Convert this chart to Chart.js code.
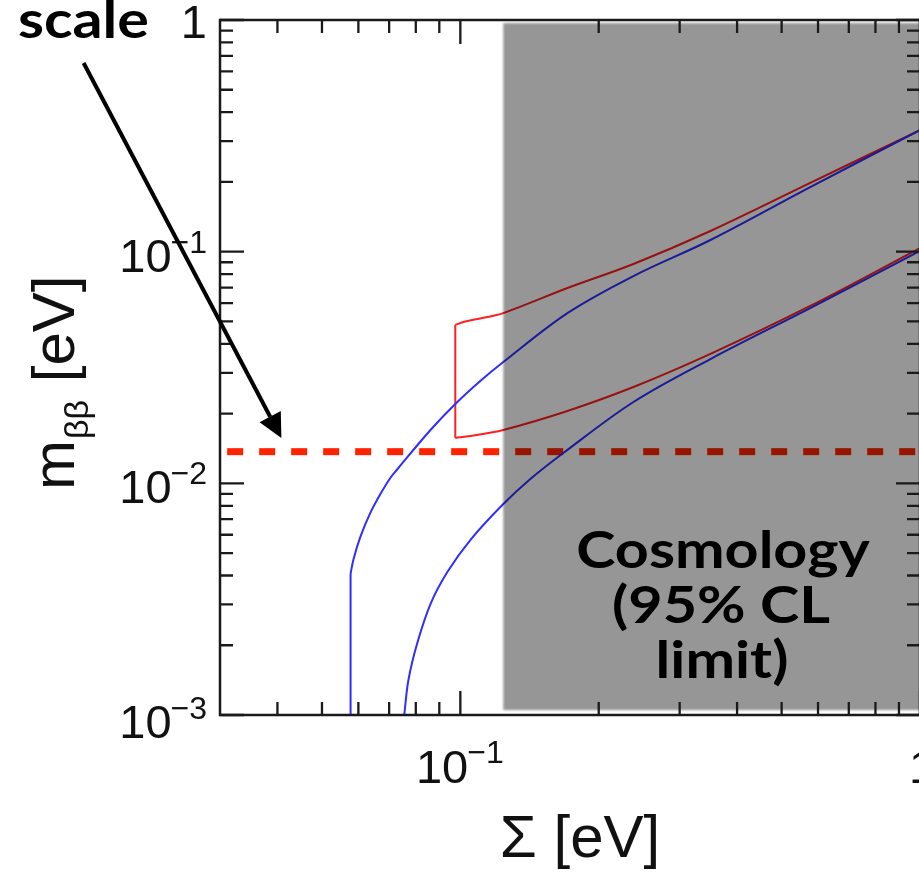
<!DOCTYPE html>
<html>
<head>
<meta charset="utf-8">
<script src="https://cdn.jsdelivr.net/npm/chart.js@4.4.0/dist/chart.umd.min.js"></script>
<style>
  html, body { margin: 0; padding: 0; background: #fff; overflow: hidden; }
  #wrap { position: relative; width: 930px; height: 873px; }
</style>
</head>
<body>
<div id="wrap"><canvas id="graficoMbb"></canvas></div>
<script>
// === Dados ===
// Eixo x: Σ [eV] (log), eixo y: m_ββ [eV] (log)
const xMajorTicks = [0.1, 1];
const xMinorTicks = [0.04, 0.05, 0.06, 0.07, 0.08, 0.09, 0.2, 0.3, 0.4, 0.5, 0.6, 0.7, 0.8, 0.9];
const yMajorTicks = [0.001, 0.01, 0.1, 1];
const yMinorTicks = [0.002, 0.003, 0.004, 0.005, 0.006, 0.007, 0.008, 0.009,
                     0.02, 0.03, 0.04, 0.05, 0.06, 0.07, 0.08, 0.09,
                     0.2, 0.3, 0.4, 0.5, 0.6, 0.7, 0.8, 0.9];

// Hierarquia normal (azul) - limite superior (os 2 primeiros pontos = trecho vertical)
const nhUpperSigma = [0.0577, 0.0577, 0.0585, 0.0606, 0.0637, 0.0670, 0.0704, 0.0730, 0.0861, 0.0975, 0.1105, 0.124, 0.171, 0.238, 0.350, 0.577, 1.0];
const nhUpperMbb   = [0.001, 0.00406, 0.00467, 0.00587, 0.00745, 0.00899, 0.01055, 0.01153, 0.01699, 0.0220, 0.02765, 0.0334, 0.0543, 0.0785, 0.1123, 0.190, 0.335];

// Hierarquia normal (azul) - limite inferior
const nhLowerSigma = [0.0755, 0.0771, 0.0806, 0.0861, 0.0937, 0.1051, 0.1234, 0.142, 0.1675, 0.238, 0.350, 0.577, 1.0];
const nhLowerMbb   = [0.001, 0.001416, 0.002046, 0.003013, 0.00414, 0.00569, 0.00806, 0.01044, 0.01352, 0.02245, 0.0344, 0.0571, 0.1007];

// Hierarquia invertida (vermelho) - limites superior e inferior
const ihUpperSigma = [0.0975, 0.1015, 0.1105, 0.124, 0.171, 0.238, 0.350, 0.577, 1.0];
const ihUpperMbb   = [0.0483, 0.0497, 0.0515, 0.0543, 0.0697, 0.0885, 0.1228, 0.198, 0.335];
const ihLowerSigma = [0.0975, 0.1052, 0.124, 0.171, 0.238, 0.350, 0.577, 1.0];
const ihLowerMbb   = [0.0157, 0.0160, 0.0170, 0.02053, 0.02604, 0.0362, 0.0583, 0.1037];

// Sensibilidade (linha tracejada)
const sensitivitySigma = [0.0311, 1.0];
const sensitivityMbb = [0.0137, 0.0137];

// Limite cosmológico (região cinza)
const cosmoSigma = [0.124, 1.0];
const cosmoMbb = [0.00105, 0.97];

// Seta (início fora do gráfico, ponta perto da linha tracejada)
const arrowSigma = [0.01515, 0.0408];
const arrowMbb = [0.652, 0.0157];

// === Funções auxiliares ===
function pontos(xs, ys) {
  return xs.map((v, i) => ({ x: v, y: ys[i] }));
}

const FONTE_TICK = "47px 'Liberation Sans', Arial, sans-serif";
const FONTE_SUP = "32px 'Liberation Sans', Arial, sans-serif";
const FONTE_TITULO = "60px 'Liberation Sans', Arial, sans-serif";
const FONTE_SUB = "34px 'Liberation Sans', Arial, sans-serif";
const FONTE_NOTA = "bold 52px Lato, 'Open Sans', sans-serif";

function desenhaPotencia(ctx, expoente, x, yBase, ySup, alinhamento) {
  const base = "10";
  const sup = "\u2212" + expoente;
  ctx.font = FONTE_TICK;
  const wb = ctx.measureText(base).width;
  ctx.font = FONTE_SUP;
  const ws = ctx.measureText(sup).width;
  const x0 = alinhamento === "right" ? x - wb - ws : x - (wb + ws) / 2;
  ctx.textAlign = "left";
  ctx.font = FONTE_TICK;
  ctx.fillText(base, x0, yBase);
  ctx.font = FONTE_SUP;
  ctx.fillText(sup, x0 + wb - 1, ySup);
}

// texto em negrito, um pouco mais largo (imitando Gill Sans)
function textoLargo(ctx, texto, x, y, alinhamento) {
  ctx.save();
  ctx.translate(x, y);
  ctx.scale(1.14, 1);
  ctx.textAlign = alinhamento;
  ctx.fillText(texto, 0, 0);
  ctx.restore();
}

// Região cinza do limite cosmológico, por cima das curvas
const cosmoPlugin = {
  id: "cosmo",
  afterDatasetsDraw(chart) {
    const { ctx, scales: { x, y } } = chart;
    const x0 = x.getPixelForValue(cosmoSigma[0]);
    const x1 = x.getPixelForValue(cosmoSigma[1]) + 5;
    const y0 = y.getPixelForValue(cosmoMbb[1]);
    const y1 = y.getPixelForValue(cosmoMbb[0]);
    ctx.save();
    ctx.filter = "blur(1px)";
    ctx.fillStyle = "rgba(0, 0, 0, 0.41)";
    ctx.fillRect(x0, y0, x1 - x0, y1 - y0);
    ctx.restore();
  }
};

// Moldura, ticks para dentro, rótulos, títulos e anotações
const eixosPlugin = {
  id: "eixos",
  afterDraw(chart) {
    const { ctx, chartArea: a, scales: { x, y } } = chart;
    ctx.save();
    ctx.strokeStyle = "#1a1a1a";
    ctx.lineWidth = 2.5;
    ctx.strokeRect(a.left, a.top, a.right - a.left, a.bottom - a.top);

    ctx.lineWidth = 2.3;
    ctx.beginPath();
    const tick = (vals, len, eixo) => {
      vals.forEach(v => {
        if (eixo === "x") {
          const px = x.getPixelForValue(v);
          ctx.moveTo(px, a.bottom); ctx.lineTo(px, a.bottom - len);
          ctx.moveTo(px, a.top); ctx.lineTo(px, a.top + len);
        } else {
          const py = y.getPixelForValue(v);
          ctx.moveTo(a.left, py); ctx.lineTo(a.left + len, py);
          ctx.moveTo(a.right, py); ctx.lineTo(a.right - len, py);
        }
      });
    };
    tick(xMinorTicks, 13, "x");
    tick(xMajorTicks, 24, "x");
    tick(yMinorTicks, 13, "y");
    tick(yMajorTicks, 24, "y");
    ctx.stroke();

    // Rótulos do eixo y
    ctx.fillStyle = "#111";
    ctx.textBaseline = "alphabetic";
    yMajorTicks.forEach(v => {
      const py = y.getPixelForValue(v);
      if (v === 1) {
        ctx.font = FONTE_TICK;
        ctx.textAlign = "right";
        ctx.fillText("1", 207, py + 18);
      } else {
        const desloc = v === 0.001 ? 23 : 20;
        desenhaPotencia(ctx, Math.round(-Math.log10(v)), 208, py + desloc, py + desloc - 19, "right");
      }
    });

    // Rótulos do eixo x
    xMajorTicks.forEach(v => {
      const px = x.getPixelForValue(v);
      if (v === 1) {
        ctx.font = FONTE_TICK;
        ctx.textAlign = "center";
        ctx.fillText("1", px + 2, 783);
      } else {
        desenhaPotencia(ctx, Math.round(-Math.log10(v)), px, 783, 763, "center");
      }
    });

    // Título do eixo x
    ctx.font = FONTE_TITULO;
    ctx.textAlign = "center";
    ctx.fillText("\u03A3 [eV]", 580, 857);

    // Título do eixo y (rotacionado)
    ctx.save();
    ctx.translate(74, 490);
    ctx.rotate(-Math.PI / 2);
    ctx.textAlign = "left";
    ctx.font = FONTE_TITULO;
    ctx.fillText("m", 0, 0);
    let wx = ctx.measureText("m").width;
    ctx.font = FONTE_SUB;
    ctx.fillText("\u03B2\u03B2", wx + 1, 14);
    wx += ctx.measureText("\u03B2\u03B2").width + 2;
    ctx.font = FONTE_TITULO;
    ctx.fillText(" [eV]", wx, 0);
    ctx.restore();

    // Seta
    const sx = x.getPixelForValue(arrowSigma[0]), sy = y.getPixelForValue(arrowMbb[0]);
    const tx = x.getPixelForValue(arrowSigma[1]), ty = y.getPixelForValue(arrowMbb[1]);
    const ang = Math.atan2(ty - sy, tx - sx);
    const L = 24, W = 12;
    const bx = tx - L * Math.cos(ang), by = ty - L * Math.sin(ang);
    ctx.strokeStyle = "#000";
    ctx.lineWidth = 4;
    ctx.beginPath();
    ctx.moveTo(sx, sy);
    ctx.lineTo(bx, by);
    ctx.stroke();
    ctx.fillStyle = "#000";
    ctx.beginPath();
    ctx.moveTo(tx, ty);
    ctx.lineTo(bx + W * Math.sin(ang), by - W * Math.cos(ang));
    ctx.lineTo(bx - W * Math.sin(ang), by + W * Math.cos(ang));
    ctx.closePath();
    ctx.fill();

    // Textos em negrito
    ctx.font = FONTE_NOTA;
    textoLargo(ctx, "scale", 149, 38, "right");
    textoLargo(ctx, "Cosmology", 723, 568, "center");
    textoLargo(ctx, "(95% CL", 721, 623, "center");
    textoLargo(ctx, "limit)", 722, 678, "center");
    ctx.restore();
  }
};

// === Gráfico ===
window.addEventListener("load", () => {
  const ctxMbb = document.getElementById("graficoMbb").getContext("2d");
  const reta = { showLine: true, pointRadius: 0, borderWidth: 2, tension: 0, fill: false };
  const curva = { ...reta, tension: 0.35 };
  const azul = "#2e2eff";
  const vermelho = "#ff2020";

  new Chart(ctxMbb, {
    type: "scatter",
    data: {
      datasets: [
        // NH: trecho vertical + curva superior
        { ...reta, label: "NH max (vertical)", data: pontos(nhUpperSigma.slice(0, 2), nhUpperMbb.slice(0, 2)), borderColor: azul },
        { ...curva, label: "NH max", data: pontos(nhUpperSigma.slice(1), nhUpperMbb.slice(1)), borderColor: azul },
        { ...curva, label: "NH min", data: pontos(nhLowerSigma, nhLowerMbb), borderColor: azul },
        // IH: curva superior, curva inferior e lado vertical esquerdo
        { ...curva, label: "IH max", data: pontos(ihUpperSigma, ihUpperMbb), borderColor: vermelho },
        { ...curva, label: "IH min", data: pontos(ihLowerSigma, ihLowerMbb), borderColor: vermelho },
        {
          ...reta,
          label: "IH (vertical)",
          data: [{ x: ihLowerSigma[0], y: ihLowerMbb[0] }, { x: ihUpperSigma[0], y: ihUpperMbb[0] }],
          borderColor: vermelho
        },
        {
          ...reta,
          label: "Sensibilidade",
          data: pontos(sensitivitySigma, sensitivityMbb),
          borderColor: "#ff2200",
          borderWidth: 7,
          borderDash: [16, 16],
          borderCapStyle: "butt"
        }
      ]
    },
    options: {
      responsive: true,
      maintainAspectRatio: false,
      animation: false,
      layout: { padding: { left: 220, top: 20, right: 10, bottom: 158 } },
      plugins: {
        legend: { display: false },
        tooltip: { enabled: false }
      },
      scales: {
        x: { type: "logarithmic", min: 0.03, max: 1, display: false },
        y: { type: "logarithmic", min: 0.001, max: 1, display: false }
      }
    },
    plugins: [cosmoPlugin, eixosPlugin]
  });
});
</script>
</body>
</html>
